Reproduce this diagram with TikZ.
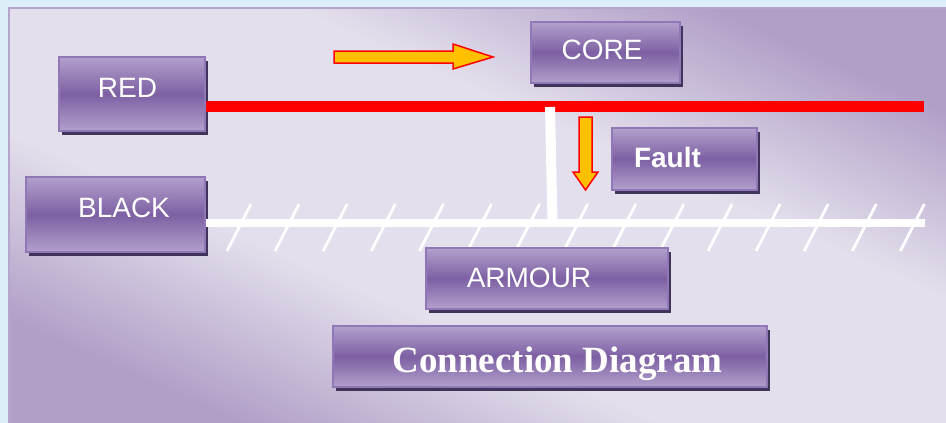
\documentclass[tikz,border=0pt]{standalone}
\usepackage{fontspec}
\setmainfont{Liberation Sans}
\newfontfamily\serifbold{Liberation Serif}
\usetikzlibrary{shadows}
\definecolor{outerbg}{HTML}{DCEEF7}
\definecolor{panellight}{HTML}{E4DFEC}
\definecolor{paneldark}{HTML}{B09FC7}
\definecolor{panelborder}{HTML}{B5A4CB}
\definecolor{boxlight}{HTML}{B2A0CC}
\definecolor{boxmid}{HTML}{7D60A3}
\definecolor{boxedge}{HTML}{9077B6}
\definecolor{boxshadow}{HTML}{41345A}
\definecolor{arrowfill}{HTML}{FFC000}
\pgfdeclareverticalshading{panelshade}{100bp}{color(0bp)=(paneldark); color(25bp)=(paneldark); color(40bp)=(panellight); color(60bp)=(panellight); color(75bp)=(paneldark); color(100bp)=(paneldark)}
\begin{document}
\begin{tikzpicture}[x=1pt,y=-1pt,
  boxnode/.style={rectangle, inner sep=0pt, draw=boxedge, line width=1.6pt,
    top color=boxlight, bottom color=boxlight, middle color=boxmid,
    general shadow={fill=boxshadow, shadow xshift=3pt, shadow yshift=-4pt}},
  boxtext/.style={anchor=base, inner sep=0pt, text=white, font=\fontsize{28}{30}\selectfont},
  redline/.style={draw=red, line width=11.5pt},
  whiteline/.style={draw=white, line width=8pt},
  stubline/.style={draw=white, line width=10pt},
  hatch/.style={draw=white, line width=2.8pt},
  fatarrow/.style={fill=arrowfill, draw=red, line width=1.5pt, line join=miter}]
\useasboundingbox (0,0) rectangle (946,423);
\fill[outerbg] (0,0) rectangle (946,423);
\shade[shading=panelshade, shading angle=-24]
  (9,8) rectangle (946,423);
\draw[panelborder, line width=2pt] (946,8) -- (9,8) -- (9,423);

% lines
\coordinate (redend) at (924,106.5);
\coordinate (armend) at (925,223);
\coordinate (stubtop) at (550,107);
\coordinate (stubbot) at (552.5,221);
\foreach \i in {0,...,14} {
  \draw[hatch] ({251+48.1*\i},204) -- ({227+48.1*\i},251);
}

% boxes
\node[boxnode, minimum width=146pt, minimum height=74pt] (red) at (132,94) {};
\node[boxnode, minimum width=179pt, minimum height=75pt] (black) at (115.5,214.5) {};
\node[boxnode, minimum width=149pt, minimum height=61pt] (core) at (605.5,52.5) {};
\node[boxnode, minimum width=145pt, minimum height=62pt] (fault) at (684.5,159) {};
\node[boxnode, minimum width=242pt, minimum height=61pt] (armour) at (547,278.5) {};
\node[boxnode, minimum width=434pt, minimum height=61pt] (title) at (550,356.5) {};

\draw[redline] (red.east |- redend) -- (redend);
\draw[whiteline] (black.east |- armend) -- (armend);
\draw[stubline] (stubtop) -- (stubbot);

\node[boxtext] (redt) at (127.5,97) {RED};
\node[boxtext] (blackt) at (124,217) {BLACK};
\node[boxtext] (coret) at (602,59) {CORE};
\node[boxtext, font=\fontsize{28}{30}\selectfont\bfseries] (faultt) at (667.5,167) {Fault};
\node[boxtext] (armourt) at (529,287) {ARMOUR};
\node[boxtext, font=\fontsize{37}{40}\serifbold\bfseries] (titlet) at (557.5,372) {Connection Diagram};

% arrows
\draw[fatarrow] (334,51) -- (453,51) -- (453,44) -- (493,57) -- (453,69) -- (453,63) -- (334,63) -- cycle;
\draw[fatarrow] (579,117) -- (592,117) -- (592,172) -- (598,172) -- (585.5,190) -- (573,172) -- (579,172) -- cycle;
\end{tikzpicture}
\end{document}
